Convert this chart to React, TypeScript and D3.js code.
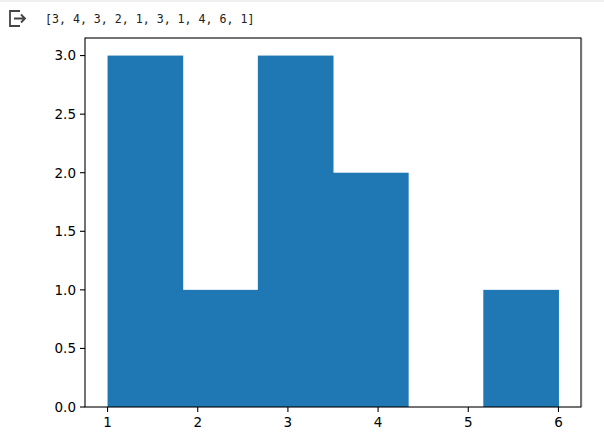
import React from "react";
import * as d3 from "d3";

const values = [3, 4, 3, 2, 1, 3, 1, 4, 6, 1];
const binCount = 6;
const xTicks = [1, 2, 3, 4, 5, 6];
const yTicks = [0, 0.5, 1, 1.5, 2, 2.5, 3];
const outputText = "[3, 4, 3, 2, 1, 3, 1, 4, 6, 1]";

export default function App() {
  const W = 604, H = 441;
  const left = 85, right = 581, top = 38, bottom = 407;
  const lo = d3.min(values)!, hi = d3.max(values)!;
  const step = (hi - lo) / binCount;
  const edges = d3.range(binCount + 1).map((i) => lo + i * step);
  const bins = edges.slice(0, -1).map((e0, i) => {
    const e1 = edges[i + 1];
    const count = values.filter((v) => v >= e0 && (i === binCount - 1 ? v <= e1 : v < e1)).length;
    return { x0: e0, x1: e1, count };
  });
  const pad = (hi - lo) * 0.05;
  const x = d3.scaleLinear().domain([lo - pad, hi + pad]).range([left, right]);
  const maxC = d3.max(bins, (b) => b.count)!;
  const y = d3.scaleLinear().domain([0, maxC * 1.05]).range([bottom, top]);
  const font = "'DejaVu Sans', sans-serif";
  return (
    <svg width={W} height={H} style={{ position: "absolute", left: 0, top: 0, background: "#fff" }}>
      <rect x={0} y={0} width={W} height={2} fill="#f0f0f0" />
      <g fill="none" stroke="#444" strokeWidth={1.8}>
        <path d="M20,11 H10 V26 H20" />
        <path d="M14,18.5 H25 M21,14.5 L25,18.5 L21,22.5" />
      </g>
      <text x={45} y={23} fontFamily="'DejaVu Sans Mono', monospace" fontSize={11.6} fill="#212121">
        {outputText}
      </text>
      {bins.map((b, i) => (
        <rect
          key={i}
          x={x(b.x0)}
          y={y(b.count)}
          width={x(b.x1) - x(b.x0) + 0.5}
          height={y(0) - y(b.count)}
          fill="#1f77b4"
        />
      ))}
      <line x1={right + 1.5} x2={right + 1.5} y1={top} y2={bottom} stroke="#e8e8e8" strokeWidth={1} />
      <rect x={left} y={top} width={right - left} height={bottom - top} fill="none" stroke="#000" strokeWidth={1.1} />
      {xTicks.map((t) => (
        <g key={t}>
          <line x1={x(t)} x2={x(t)} y1={bottom} y2={bottom + 5} stroke="#000" strokeWidth={1.1} />
          <text x={x(t)} y={bottom + 20} textAnchor="middle" fontFamily={font} fontSize={13.5} fill="#000">
            {t}
          </text>
        </g>
      ))}
      {yTicks.map((t) => (
        <g key={t}>
          <line x1={left - 5} x2={left} y1={y(t)} y2={y(t)} stroke="#000" strokeWidth={1.1} />
          <text x={left - 9} y={y(t)} dy="0.36em" textAnchor="end" fontFamily={font} fontSize={13.5} fill="#000">
            {d3.format(".1f")(t)}
          </text>
        </g>
      ))}
    </svg>
  );
}
